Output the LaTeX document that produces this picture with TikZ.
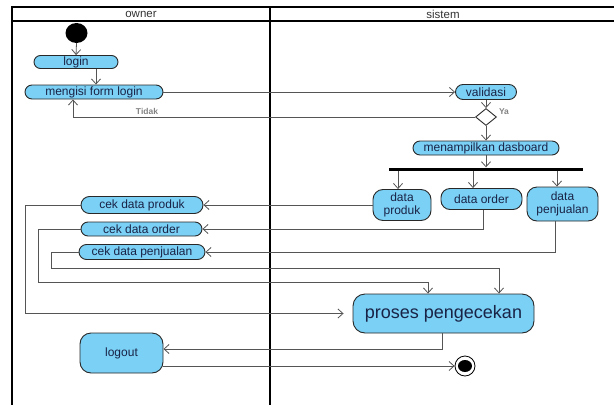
\documentclass[tikz,border=0pt]{standalone}
\usepackage{fontspec}
\setmainfont{Liberation Sans}
\usetikzlibrary{arrows.meta,shapes.geometric,calc}
\definecolor{actfill}{RGB}{122,208,245}
\definecolor{actline}{RGB}{40,40,40}
\definecolor{conn}{RGB}{85,85,85}
\definecolor{txt}{RGB}{25,35,70}
\definecolor{lbl}{RGB}{130,130,130}
\begin{document}
\begin{tikzpicture}[x=1pt,y=-1pt,
  act/.style={draw=actline, line width=0.9pt, fill=actfill, inner sep=0pt, text=txt,
    font=\fontsize{12}{13.5}\selectfont, align=center},
  flow/.style={draw=conn, line width=0.8pt, -{Straight Barb[length=5pt,width=9pt]}},
  lane/.style={draw=black, line width=1.4pt},
  guard/.style={text=lbl, font=\fontsize{8.5}{10}\selectfont\bfseries, inner sep=0pt},
  head/.style={text=black!80, font=\fontsize{11.5}{12}\selectfont, inner sep=0pt}]
\useasboundingbox (0,0) rectangle (614,405);

% swimlanes
\draw[lane] (614,7) -- (12,7) -- (12,405);
\draw[lane] (12,21) -- (614,21);
\draw[lane] (270,7) -- (270,405);
\node[head] (owner) at (141,14) {owner};
\node[head] (sistem) at (443,14) {sistem};

% nodes
\node[ellipse, fill=black, minimum width=22pt, minimum height=20pt, inner sep=0pt] (start) at (76.5,33) {};
\node[act, minimum width=84pt, minimum height=13pt, rounded corners=6.5pt] (login) at (76,62) {login};
\node[act, minimum width=138pt, minimum height=14pt, rounded corners=7pt] (mengisi) at (94,92) {mengisi form login};
\node[act, minimum width=61pt, minimum height=15pt, rounded corners=7.5pt] (validasi) at (486,92) {validasi};
\node[diamond, draw=actline, line width=0.9pt, fill=white, minimum width=21pt, minimum height=17pt, inner sep=0pt] (dec) at (486,117) {};
\node[act, minimum width=146pt, minimum height=14pt, rounded corners=7pt] (dash) at (486,148) {menampilkan dasboard};
\node[fill=black, minimum width=194pt, minimum height=3pt, inner sep=0pt] (fork) at (486,169) {};
\node[act, minimum width=58pt, minimum height=31pt, rounded corners=10pt] (produk) at (402,205) {data\\produk};
\node[act, minimum width=81pt, minimum height=21pt, rounded corners=9pt] (order) at (481.5,199) {data order};
\node[act, minimum width=71pt, minimum height=34pt, rounded corners=10pt] (penjualan) at (562.5,204) {data\\penjualan};
\node[act, minimum width=122pt, minimum height=17pt, rounded corners=8.5pt] (cekproduk) at (142,205) {cek data produk};
\node[act, minimum width=121pt, minimum height=14pt, rounded corners=7pt] (cekorder) at (141.5,229) {cek data order};
\node[act, minimum width=126pt, minimum height=15pt, rounded corners=7.5pt] (cekpenj) at (142,252) {cek data penjualan};
\node[act, minimum width=181pt, minimum height=39pt, rounded corners=12pt, font=\fontsize{18}{20}\selectfont] (proses) at (443.5,313.5) {proses pengecekan};
\node[act, minimum width=83pt, minimum height=40pt, rounded corners=11pt] (logout) at (121.5,353) {logout};
\node[circle, draw=black, line width=0.8pt, fill=white, minimum size=20pt, inner sep=0pt] (final) at (465,366) {};
\node[ellipse, fill=black, minimum width=14pt, minimum height=12pt, inner sep=0pt] (finalin) at (465,366) {};

% helper coordinates
\coordinate (fp) at ($(produk.north)+(-4,0)$);
\coordinate (fo) at ($(order.north)+(-8.5,0)$);
\coordinate (fj) at ($(penjualan.north)+(-5.5,0)$);
\coordinate (pj) at ($(penjualan.south)+(-7.5,0)$);
\coordinate (k1) at (25,0);
\coordinate (k2) at (38,282);
\coordinate (t1) at (428,282);
\coordinate (k3) at (51,268);
\coordinate (t2) at (499,268);
\coordinate (l1) at ($(logout.east)+(0,-4)$);
\coordinate (l2) at ($(logout.east)+(0,13)$);
\coordinate (tk) at ($(mengisi.south)+(-21,0)$);

% connectors
\draw[flow] (start.south) -- (login.north);
\draw[flow] ([xshift=20pt]login.south) -- ([xshift=2pt]mengisi.north);
\draw[flow] (mengisi.east) -- (validasi.west);
\draw[flow] (validasi.south) -- (dec.north);
\draw[flow] (dec.west) -| (tk);
\node[guard] (tidak) at (147,111) {Tidak};
\node[guard] (ya) at (504,112) {Ya};
\draw[flow] (dec.south) -- (dash.north);
\draw[flow] (dash.south) -- (fork.north);
\draw[flow] (fork.south -| fp) -- (fp);
\draw[flow] (fork.south -| fo) -- (fo);
\draw[flow] (fork.south -| fj) -- (fj);
\draw[flow] (produk.west) -- (cekproduk.east);
\draw[flow] ([xshift=1.5pt]order.south) |- (cekorder.east);
\draw[flow] (pj) |- (cekpenj.east);
\draw[flow, shorten >=9pt] (cekproduk.west) -| (k1 |- proses.west) -- (proses.west);
\draw[flow] (cekorder.west) -| (k2) -- (t1) -- (t1 |- proses.north);
\draw[flow] (cekpenj.west) -| (k3) -- (t2) -- (t2 |- proses.north);
\draw[flow] ([xshift=-1.5pt]proses.south) |- (l1);
\draw[flow] (l2) -- (final.west);
\end{tikzpicture}
\end{document}
